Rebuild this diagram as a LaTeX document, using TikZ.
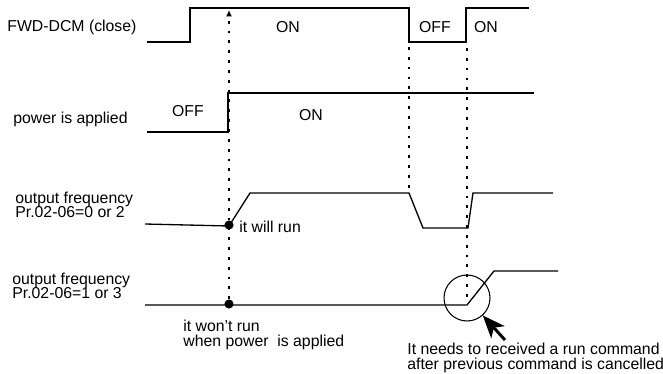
\documentclass[tikz,border=0pt]{standalone}
\usepackage{fontspec}
\setmainfont{Liberation Sans}
\usepackage{xcolor}
\usepackage{tikz}
\usetikzlibrary{arrows.meta,positioning}
\tikzset{
  wave/.style={line width=0.75pt, draw=black, line join=miter},
  powerwave/.style={line width=1.05pt, draw=black},
  guide/.style={line width=1.2pt, dash pattern=on 1.6pt off 4pt},
  lbl/.style={font=\fontsize{9}{8.2}\selectfont, inner sep=0pt},
  siglbl/.style={lbl, align=left, anchor=west},
  joint/.style={circle, fill=black, inner sep=0pt, minimum size=5.2pt},
  ring/.style={circle, draw=black, line width=0.6pt, inner sep=0pt, minimum size=0.92cm},
  pointer/.style={-{Stealth[length=4.5mm,width=3.6mm,inset=1.2mm]}, line width=1.7pt}
}

\begin{document}
\begin{tikzpicture}[x=0.02cm,y=-0.02cm]
\useasboundingbox (0,0) rectangle (663,373);
% signal names
\node[siglbl] (fwd) at (7,27) {FWD-DCM (close)};
\node[siglbl] (pwr) at (13,119) {power is applied};
\node[siglbl] (freqa) at (15,205) {output frequency\\Pr.02-06=0 or 2};
\node[siglbl] (freqb) at (12,286) {output frequency\\Pr.02-06=1 or 3};
% states
\node[lbl] (fwdon) at (288,27) {ON};
\node[lbl] (fwdoff) at (435,27) {OFF};
\node[lbl] (fwdon2) at (486,27) {ON};
\node[lbl] (pwroff) at (188,111) {OFF};
\node[lbl] (pwron) at (311,115) {ON};
% waveforms
\draw[wave] (147,42) -- (190,42) -- (190,8) -- (409,8) -- (409,42) -- (466,42) -- (466,8) -- (529,8);
\draw[powerwave] (147,132) -- (228,132) -- (228,93) -- (534,93);
\draw[wave] (145,224) -- (229,226) -- (250,193) -- (409,193) -- (423,228) -- (468,228) -- (473,193) -- (553,193);
\draw[wave] (145,305) -- (467,305) -- (494,271) -- (558,271);
% markers
\node[joint] (run) at (229,225) {};
\node[joint] (norun) at (229,304) {};
\coordinate (fwdup) at (229,10);
\coordinate (stopa) at (409,47);
\coordinate (stopb) at (409,192);
\coordinate (restarta) at (467,48);
\coordinate (restartb) at (467,303);
\draw[guide, -{Latex[length=3.6pt,width=3.4pt]}] (norun) -- (fwdup);
\draw[guide] (stopa) -- (stopb);
\draw[guide] (restarta) -- (restartb);
\node[ring] (late) at (467,298) {};
\coordinate (hint) at (505,340);
\draw[pointer] (hint) -- (late);
% notes
\node[lbl, anchor=west] (runnote) at (239,227) {it will run};
\node[siglbl] (norunnote) at (183,335) {it won{\char"27}t run\\when power~ is applied};
\node[siglbl] (needsnote) at (407,358) {It needs to received a run command\\after previous command is cancelled};
\end{tikzpicture}
\end{document}
